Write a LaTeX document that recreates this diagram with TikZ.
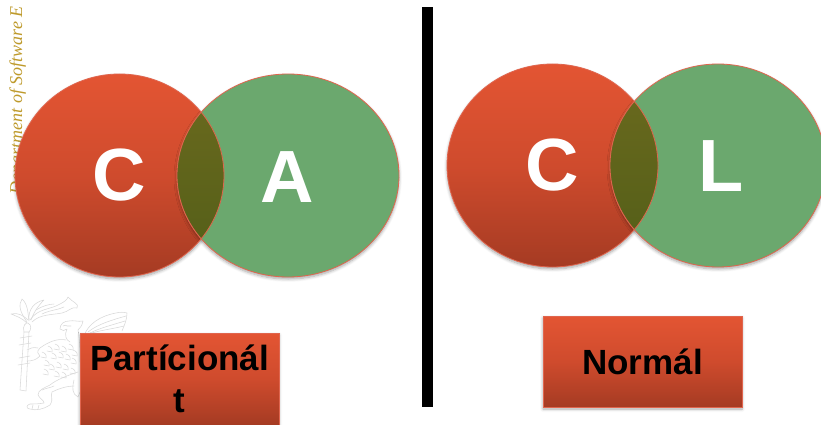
\documentclass[tikz,border=0pt]{standalone}
\usepackage{fontspec}
\setmainfont{Liberation Sans}
\newfontfamily\gold{Liberation Serif}
\usetikzlibrary{shadows.blur}
\definecolor{redtop}{HTML}{E35533}
\definecolor{redmid}{HTML}{CF4B2D}
\definecolor{redbot}{HTML}{A53B23}
\definecolor{grn}{HTML}{6BA86E}
\definecolor{edge}{HTML}{E0654E}
\definecolor{goldtxt}{HTML}{BE9A2C}
\definecolor{griff}{HTML}{D8D8D8}
\definecolor{lenstop}{HTML}{6C6A1E}
\definecolor{lensbot}{HTML}{525E18}
\tikzset{
 x=1pt,y=-1pt,
 softshadow/.style={blur shadow={shadow blur steps=6,shadow xshift=0pt,shadow yshift=-2pt,shadow blur radius=3pt,shadow opacity=35}},
 redfill/.style={top color=redtop,bottom color=redbot,middle color=redmid},
 redcircle/.style={redfill,draw=none,softshadow},
 grncircle/.style={fill=grn,draw=edge,line width=.8pt,softshadow},
 lens/.style={top color=lenstop,bottom color=lensbot},
 bigletter/.style={text=white,font=\fontsize{74}{74}\selectfont\bfseries,inner sep=0pt},
 boxlabel/.style={redfill,draw=edge,line width=.6pt,minimum width=199pt,inner sep=0pt,text=black,align=center,font=\fontsize{35}{42}\selectfont\bfseries,softshadow},
 griffline/.style={draw=griff,line width=.55pt,line join=round,line cap=round},
 barstyle/.style={fill=black,draw=none,inner sep=0pt,minimum width=11pt}
}
\begin{document}
\begin{tikzpicture}
\useasboundingbox (0,0) rectangle (821,425);
\clip (0,0) rectangle (821,425);
% rotated department text
\node[rotate=90,anchor=base east,text=goldtxt,inner sep=0pt,font=\gold\itshape\fontsize{18}{20}\selectfont] (dept) at (22,6) {Department of Software E};
% griffin watermark
\begin{scope}[griffline]
% staff
\draw (20,390) -- (24,332) -- (29,332) -- (26,391) -- cycle;
\draw (20,338) -- (32,336) (19,345) -- (31,343) (19,358) -- (30,356) (18,365) -- (30,363);
\draw (24,332) .. controls (22,326) and (26,322) .. (28,323) .. controls (32,325) and (31,330) .. (29,332);
% flames
\draw (27,323) .. controls (22,318) and (16,316) .. (11,314) .. controls (18,312) and (24,316) .. (28,320);
\draw (27,322) .. controls (20,312) and (18,305) .. (22,299) .. controls (28,304) and (28,314) .. (29,321);
\draw (29,320) .. controls (28,310) and (34,302) .. (44,300) .. controls (38,306) and (34,312) .. (31,320);
\draw (30,320) .. controls (38,308) and (50,310) .. (60,304) .. controls (64,302) and (67,300) .. (68,297);
\draw (68,297) .. controls (72,302) and (80,304) .. (77,308) .. controls (72,306) and (68,312) .. (62,313) .. controls (52,315) and (40,314) .. (32,322);
\draw (36,310) .. controls (42,306) and (50,304) .. (54,304) (42,314) .. controls (50,310) and (58,310) .. (64,307);
% head and neck
\draw (60,329) .. controls (60,324) and (64,321) .. (69,321) .. controls (74,320) and (78,322) .. (83,321) .. controls (82,326) and (80,328) .. (78,330);
\draw (60,329) .. controls (62,331) and (65,331) .. (67,329) .. controls (64,335) and (66,340) .. (70,342);
\draw (67,326) -- (71,326) (63,326) .. controls (65,325) and (66,325) .. (67,326);
% body
\draw (66,340) .. controls (58,338) and (48,342) .. (40,348) .. controls (36,352) and (38,354) .. (40,356);
\draw (78,330) .. controls (80,342) and (80,352) .. (80,362);
\draw (40,356) .. controls (36,360) and (32,361) .. (27,361);
\draw (38,348) .. controls (33,347) and (30,348) .. (27,350);
% fur
\foreach \a/\b in {42/352,48/346,55/344,62/346,69/344,73/350,45/360,52/353,59/352,66/354,72/358,50/364,57/362,64/364,71/368,55/371,62/372,44/369}
  \draw (\a,\b) .. controls (\a+3,\b+1) and (\a+5,\b+3) .. (\a+4,\b+6) .. controls (\a+2,\b+5) and (\a+1,\b+5) .. (\a-1,\b+5);
% hind leg
\draw (78,372) .. controls (66,376) and (56,380) .. (50,385) .. controls (44,388) and (38,390) .. (38,395) .. controls (40,399) and (44,400) .. (44,403) .. controls (38,404) and (34,404) .. (30,404) .. controls (26,405) and (26,409) .. (30,409) .. controls (36,411) and (44,409) .. (50,405) .. controls (54,400) and (50,396) .. (52,392) .. controls (60,388) and (68,386) .. (74,386);
\draw (32,409) -- (33,405) (38,409) -- (39,405);
\draw (74,380) .. controls (72,388) and (72,394) .. (78,397) -- (80,392);
\draw (42,390) .. controls (46,388) and (50,388) .. (54,386);
% wing
\draw (84,336) .. controls (88,324) and (100,316) .. (116,313) .. controls (120,312) and (124,312) .. (127,313) .. controls (127,320) and (124,326) .. (122,331);
\draw (88,332) .. controls (98,324) and (112,320) .. (126,316);
\draw (90,333) .. controls (100,328) and (112,325) .. (125,321);
\draw (92,333) .. controls (102,330) and (112,329) .. (124,326);
\end{scope}
% left venn
\path[redcircle] (119.5,175.5) ellipse [x radius=104.5,y radius=101.5];
\path[grncircle] (288,175.5) ellipse [x radius=111,y radius=101.5];
\begin{scope}
\clip (119.5,175.5) ellipse [x radius=104.5,y radius=101.5];
\path[lens,draw=edge,line width=.8pt] (288,175.5) ellipse [x radius=111,y radius=101.5];
\end{scope}
\draw[edge,line width=.8pt] (119.5,175.5) ellipse [x radius=104.5,y radius=101.5];
\node[bigletter] (c1) at (119,175.5) {C};
\node[bigletter] (a1) at (287,177) {A};
% bar
\node[barstyle,minimum height=400pt] (bar) at (427.5,207) {};
% right venn
\path[redcircle] (552.5,165.5) ellipse [x radius=105.5,y radius=101.5];
\path[grncircle] (718,165.5) ellipse [x radius=108,y radius=101.5];
\begin{scope}
\clip (552.5,165.5) ellipse [x radius=105.5,y radius=101.5];
\path[lens,draw=edge,line width=.8pt] (718,165.5) ellipse [x radius=108,y radius=101.5];
\end{scope}
\draw[edge,line width=.8pt] (552.5,165.5) ellipse [x radius=105.5,y radius=101.5];
\node[bigletter] (c2) at (552,165.5) {C};
\node[bigletter] (l2) at (721,166) {L};
% boxes
\node[boxlabel,minimum height=92pt] (part) at (179.5,379) {Partícionál\\t};
\node[boxlabel,minimum height=91pt] (norm) at (642.5,361.5) {Normál};
\end{tikzpicture}
\end{document}
